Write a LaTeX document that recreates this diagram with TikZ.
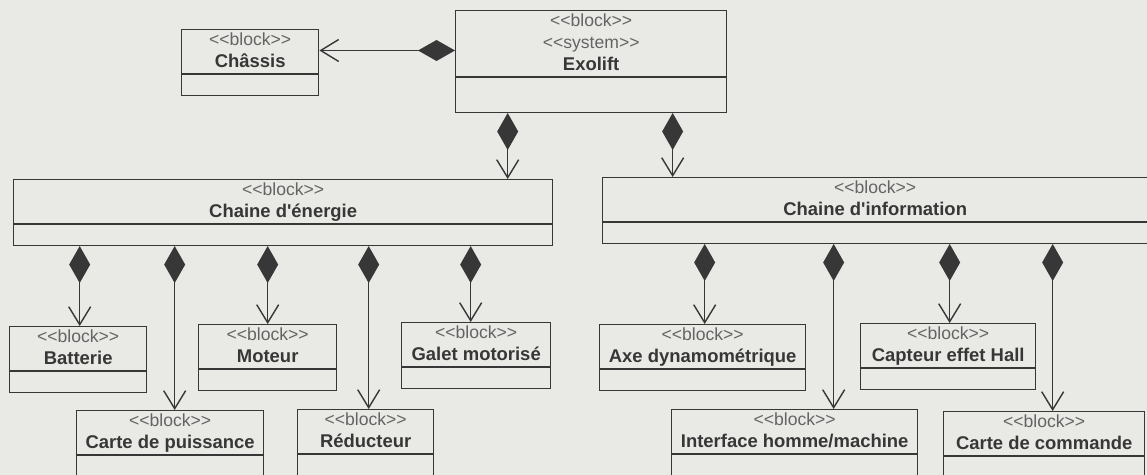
\documentclass[tikz,border=0pt]{standalone}
\usepackage{fontspec}
\setmainfont{Liberation Sans}
\usetikzlibrary{shapes.multipart, arrows.meta, calc}

\definecolor{bgpaper}{RGB}{233,233,230}
\definecolor{ink}{RGB}{55,55,55}
\definecolor{stereogray}{RGB}{100,100,100}
\newcommand{\stereo}[1]{{\color{stereogray}\fontsize{10}{12.5}\selectfont<{}<#1>{}>}}
\newcommand{\blk}[1]{\stereo{block}\\\textbf{#1}\vphantom{p}}

\begin{document}
\begin{tikzpicture}[x=0.02cm, y=-0.02cm,
		Block/.style={
			rectangle split, rectangle split parts=2,
			draw=ink, line width=0.8pt, text=ink,
			anchor=north west, align=center,
			font=\fontsize{10.5}{12.5}\selectfont,
			inner xsep=2pt, inner ysep=1.2pt,
			rectangle split empty part height=9pt,
			rectangle split empty part depth=0pt
		},
		comp/.style={ % composition: filled diamond on the whole, open arrow on the part
			draw=ink, line width=0.8pt,
			{Diamond[length=7.4mm,width=4.2mm]}-{Straight Barb[length=3.6mm,width=4.4mm]}
		}
	]
	\useasboundingbox (0,0) rectangle (1147,475);
	\fill[bgpaper] (0,0) rectangle (1147,475);
	\clip (0,0) rectangle (1147,475);

	% system and chassis
	\node[Block, minimum width=5.42cm, rectangle split empty part height=17pt] (exo) at (455,10)
		{\stereo{block}\\\stereo{system}\\\textbf{Exolift}\vphantom{p}};
	\node[Block, minimum width=2.74cm] (chas) at (181,29) {\blk{Châssis}};

	% the two chains
	\node[Block, minimum width=10.78cm] (ener) at (13,179) {\blk{Chaine d\textquotesingle énergie}};
	\node[Block, minimum width=10.9cm] (info) at (602,177) {\blk{Chaine d\textquotesingle information}};

	% parts of the energy chain
	\node[Block, minimum width=2.74cm] (bat) at (9,326) {\blk{Batterie}};
	\node[Block, minimum width=2.76cm] (mot) at (198,324) {\blk{Moteur}};
	\node[Block, minimum width=2.98cm] (gal) at (401,322) {\blk{Galet motorisé}};
	\node[Block, minimum width=3.74cm] (cpu) at (76,410) {\blk{Carte de puissance}};
	\node[Block, minimum width=2.72cm] (red) at (297,409) {\blk{Réducteur}};

	% parts of the information chain
	\node[Block, minimum width=4.12cm] (axe) at (599,324) {\blk{Axe dynamométrique}};
	\node[Block, minimum width=3.5cm] (cap) at (860,323) {\blk{Capteur effet Hall}};
	\node[Block, minimum width=4.92cm] (ihm) at (671,409) {\blk{Interface homme/machine}};
	\node[Block, minimum width=4.02cm] (cmd) at (943,411) {\blk{Carte de commande}};

	% compositions
	\draw[comp] ([yshift=0.24cm]exo.west |- chas.east) -- ([yshift=0.24cm]chas.east);
	\draw[comp] ([xshift=-1.67cm]exo.south) -- ([xshift=-1.67cm]exo.south |- ener.north);
	\draw[comp] ([xshift=1.63cm]exo.south) -- ([xshift=1.63cm]exo.south |- info.north);
	\foreach \c/\dx in {bat/0.03, cpu/0.09, mot/0, red/0.06, gal/-0.11}
		\draw[comp] ([xshift=\dx cm]\c.north |- ener.south) -- ([xshift=\dx cm]\c.north);
	\foreach \c/\dx in {axe/0.04, ihm/0.78, cap/0.03, cmd/0.17}
		\draw[comp] ([xshift=\dx cm]\c.north |- info.south) -- ([xshift=\dx cm]\c.north);
\end{tikzpicture}
\end{document}
